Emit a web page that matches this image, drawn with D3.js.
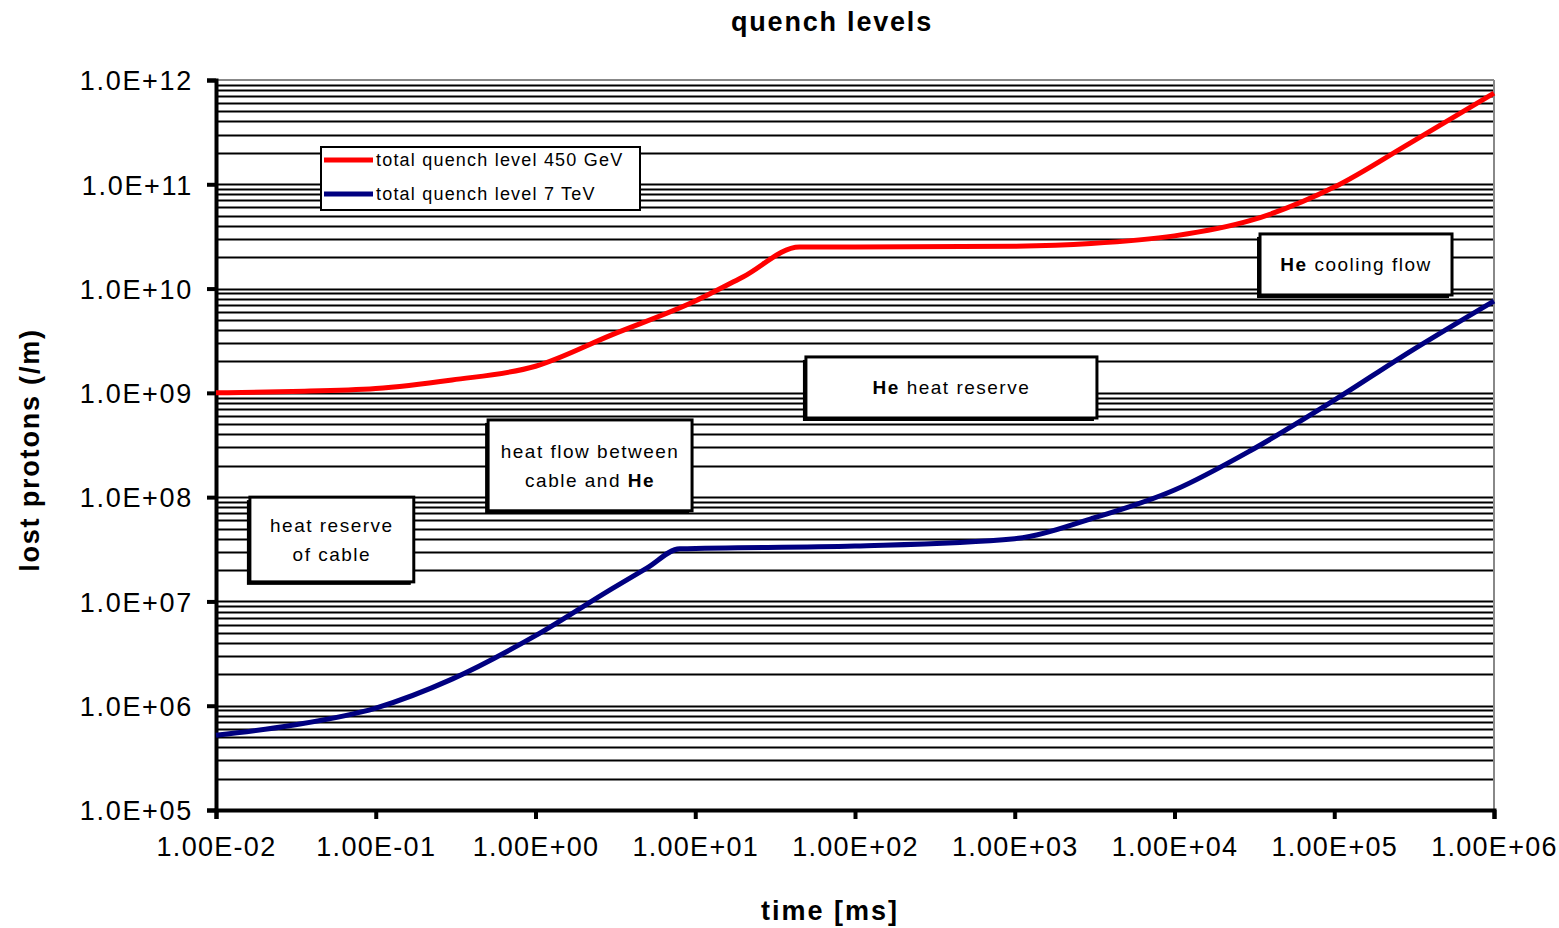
<!DOCTYPE html>
<html>
<head>
<meta charset="utf-8">
<script src="https://cdn.jsdelivr.net/npm/d3@7"></script>
<style>
  body { margin: 0; background: #fff; }
  text { font-family: "Liberation Sans", Arial, sans-serif; }
</style>
</head>
<body>
<svg id="chart" width="1559" height="928"></svg>
<script>
// data
var time450 = [0.01, 0.03, 0.1, 0.3, 1, 3, 10, 20, 45, 100, 1000, 3000, 10000, 30000, 100000, 300000, 1000000];
var level450 = [1.0e9, 1.03e9, 1.1e9, 1.33e9, 1.8e9, 3.6e9, 7.6e9, 1.3e10, 2.5e10, 2.5e10, 2.55e10, 2.7e10, 3.2e10, 4.5e10, 9.4e10, 2.5e11, 7.5e11];

var time7 = [0.01, 0.03, 0.1, 0.3, 1, 3, 5, 8, 100, 1000, 3000, 10000, 30000, 100000, 300000, 1000000];
var level7 = [5.2e5, 6.5e5, 9.5e5, 1.8e6, 4.7e6, 1.32e7, 2.1e7, 3.2e7, 3.4e7, 4.0e7, 6.2e7, 1.17e8, 2.8e8, 8.5e8, 2.5e9, 7.6e9];

var xTicks = [1e-2, 1e-1, 1e0, 1e1, 1e2, 1e3, 1e4, 1e5, 1e6];
var xTickLabels = ["1.00E-02", "1.00E-01", "1.00E+00", "1.00E+01", "1.00E+02", "1.00E+03", "1.00E+04", "1.00E+05", "1.00E+06"];
var yTicks = [1e5, 1e6, 1e7, 1e8, 1e9, 1e10, 1e11, 1e12];
var yTickLabels = ["1.0E+05", "1.0E+06", "1.0E+07", "1.0E+08", "1.0E+09", "1.0E+10", "1.0E+11", "1.0E+12"];

var seriesNames = ["total quench level 450 GeV", "total quench level 7 TeV"];
var seriesColors = ["#ff0000", "#000080"];

// annotation boxes, corners in data units
var notes = [
  { lines: [["heat reserve"], ["of cable"]], x: [0.0163, 0.173], y: [1.0e8, 1.54e7] },
  { lines: [["heat flow between"], ["cable and ", "He"]], x: [0.505, 9.55], y: [5.5e8, 7.4e7] },
  { lines: [["", "He", " heat reserve"]], x: [49.3, 3270], y: [2.21e9, 5.74e8] },
  { lines: [["", "He", " cooling flow"]], x: [34300, 546000], y: [3.34e10, 8.68e9] }
];

var margin = { left: 216, right: 65, top: 80, bottom: 118 };
var width = 1559 - margin.left - margin.right;
var height = 928 - margin.top - margin.bottom;

var svg = d3.select("#chart");
var g = svg.append("g").attr("transform", "translate(" + margin.left + "," + margin.top + ")");

var x = d3.scaleLog().domain([1e-2, 1e6]).range([0, width]);
var y = d3.scaleLog().domain([1e5, 1e12]).range([height, 0]);

// horizontal grid (major + minor)
var gridVals = [];
for (var e = 5; e < 12; e++) {
  for (var m = 1; m < 10; m++) gridVals.push(m * Math.pow(10, e));
}
g.selectAll(".grid").data(gridVals).enter().append("line")
  .attr("class", "grid")
  .attr("x1", 0).attr("x2", width)
  .attr("y1", function(d) { return Math.round(y(d)) + 0.5; })
  .attr("y2", function(d) { return Math.round(y(d)) + 0.5; })
  .attr("stroke", "#000").attr("stroke-width", 2);

// frame top/right
g.append("line").attr("x1", 0).attr("x2", width).attr("y1", 0).attr("y2", 0)
  .attr("stroke", "#888").attr("stroke-width", 2);
g.append("line").attr("x1", width).attr("x2", width).attr("y1", 0).attr("y2", height)
  .attr("stroke", "#888").attr("stroke-width", 2);

// axes
var xAxis = d3.axisBottom(x).tickValues(xTicks)
  .tickFormat(function(d, i) { return xTickLabels[i]; }).tickSize(9).tickPadding(18);
var yAxis = d3.axisLeft(y).tickValues(yTicks)
  .tickFormat(function(d, i) { return yTickLabels[i]; }).tickSize(9).tickPadding(14);

var gx = g.append("g").attr("transform", "translate(0," + height + ")").call(xAxis);
var gy = g.append("g").call(yAxis);
[gx, gy].forEach(function(a) {
  a.select(".domain").attr("stroke", "#000").attr("stroke-width", 4);
  a.selectAll(".tick line").attr("stroke", "#000").attr("stroke-width", 4);
  a.selectAll(".tick text").attr("fill", "#000").style("font-size", "27px");
});
gx.selectAll(".tick text").style("letter-spacing", "1.3px");
gy.selectAll(".tick text").attr("dy", "0.36em").style("letter-spacing", "1.7px");

// lines
var line = d3.line()
  .x(function(d) { return x(d[0]); })
  .y(function(d) { return y(d[1]); })
  .curve(d3.curveMonotoneX);

var data450 = time450.map(function(t, i) { return [t, level450[i]]; });
var data7 = time7.map(function(t, i) { return [t, level7[i]]; });

// notes boxes
notes.forEach(function(n) {
  var x0 = x(n.x[0]), x1 = x(n.x[1]), y0 = y(n.y[0]), y1 = y(n.y[1]);
  g.append("rect").attr("x", x0 - 3).attr("y", y0 + 3).attr("width", x1 - x0).attr("height", y1 - y0)
    .attr("fill", "#000");
  g.append("rect").attr("x", x0).attr("y", y0).attr("width", x1 - x0).attr("height", y1 - y0)
    .attr("fill", "#fff").attr("stroke", "#000").attr("stroke-width", 3);
  var cx = (x0 + x1) / 2, cy = (y0 + y1) / 2;
  var lh = 29;
  n.lines.forEach(function(parts, li) {
    var t = g.append("text").attr("x", cx)
      .attr("y", cy + (li - (n.lines.length - 1) / 2) * lh)
      .attr("dy", "0.35em").attr("text-anchor", "middle")
      .style("font-size", "19px").style("letter-spacing", "1.5px");
    parts.forEach(function(p) {
      t.append("tspan").text(p).style("font-weight", p === "He" ? "bold" : "normal");
    });
  });
});

g.append("path").datum(data450).attr("d", line)
  .attr("fill", "none").attr("stroke", seriesColors[0]).attr("stroke-width", 5);
g.append("path").datum(data7).attr("d", line)
  .attr("fill", "none").attr("stroke", seriesColors[1]).attr("stroke-width", 5);

// legend
var lg = svg.append("g").attr("transform", "translate(321,147)");
lg.append("rect").attr("width", 319).attr("height", 63)
  .attr("fill", "#fff").attr("stroke", "#000").attr("stroke-width", 2);
seriesNames.forEach(function(s, i) {
  var yy = 13 + i * 34;
  lg.append("line").attr("x1", 3).attr("x2", 52).attr("y1", yy).attr("y2", yy)
    .attr("stroke", seriesColors[i]).attr("stroke-width", 5);
  lg.append("text").attr("x", 55).attr("y", yy).attr("dy", "0.35em")
    .style("font-size", "18px").style("letter-spacing", "1.2px").text(s);
});

// titles
svg.append("text").attr("x", 832).attr("y", 22).attr("dy", "0.35em")
  .attr("text-anchor", "middle").style("font-size", "27px").style("font-weight", "bold")
  .style("letter-spacing", "1.8px").text("quench levels");
svg.append("text").attr("x", 830).attr("y", 911).attr("dy", "0.35em")
  .attr("text-anchor", "middle").style("font-size", "27px").style("font-weight", "bold")
  .style("letter-spacing", "2px").text("time [ms]");
svg.append("text").attr("transform", "translate(30,450) rotate(-90)").attr("dy", "0.35em")
  .attr("text-anchor", "middle").style("font-size", "27px").style("font-weight", "bold")
  .style("letter-spacing", "1.8px").text("lost protons (/m)");
</script>
</body>
</html>
